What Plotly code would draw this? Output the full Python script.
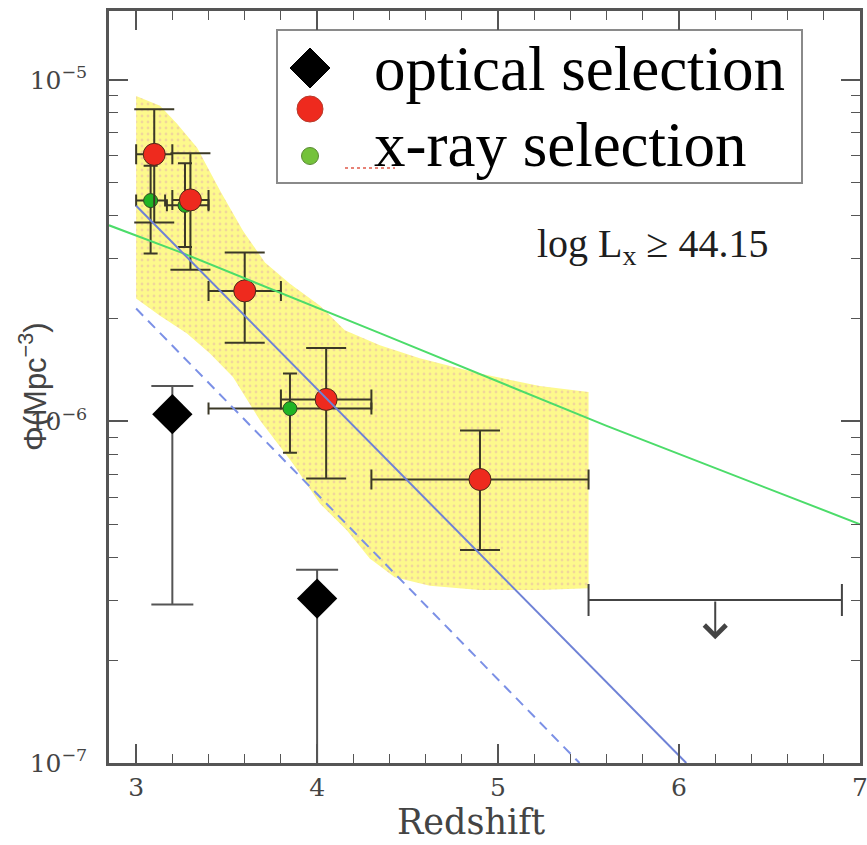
import math
import plotly.graph_objects as go

# ---- data -----------------------------------------------------------------
# optical selection (black diamonds)
opt_z = [3.2, 4.0]
opt_phi = [1.05e-6, 3.03e-7]
opt_hi = [1.27e-6, 3.68e-7]
opt_lo = [2.91e-7, 1.0e-8]

# x-ray selection (red circles)
xr_z = [3.1, 3.3, 3.6, 4.05, 4.9]
xr_zlo = [3.0, 3.2, 3.4, 3.8, 4.3]
xr_zhi = [3.2, 3.4, 3.8, 4.3, 5.5]
xr_phi = [6.05e-6, 4.45e-6, 2.41e-6, 1.16e-6, 6.76e-7]
xr_hi = [8.2e-6, 6.1e-6, 3.12e-6, 1.64e-6, 9.4e-7]
xr_lo = [3.82e-6, 2.78e-6, 1.70e-6, 6.8e-7, 4.2e-7]

# x-ray selection, second sample (green circles)
xg_z = [3.08, 3.27, 3.85]
xg_zlo = [3.0, 3.17, 3.4]
xg_zhi = [3.16, 3.4, 4.3]
xg_phi = [4.43e-6, 4.29e-6, 1.09e-6]
xg_hi = [5.6e-6, 5.7e-6, 1.38e-6]
xg_lo = [3.10e-6, 3.24e-6, 8.1e-7]

# upper limit at high redshift
ul_z = [6.2]
ul_zlo = [5.5]
ul_zhi = [6.9]
ul_phi = [3.0e-7]

# shaded model envelope
band_up_z = [3.0, 3.132, 3.226, 3.337, 3.464, 3.591, 3.712, 3.85, 4.016,
             4.153, 4.347, 4.567, 4.898, 5.23, 5.5]
band_up_phi = [8.97e-6, 8.4e-6, 7.43e-6, 6.32e-6, 4.73e-6, 3.61e-6, 2.92e-6,
               2.53e-6, 2.18e-6, 1.85e-6, 1.67e-6, 1.53e-6, 1.38e-6, 1.27e-6,
               1.22e-6]
band_lo_z = [3.0, 3.132, 3.281, 3.408, 3.535, 3.684, 3.866, 4.015, 4.164,
             4.291, 4.429, 4.623, 4.898, 5.23, 5.5]
band_lo_phi = [2.29e-6, 2.04e-6, 1.81e-6, 1.58e-6, 1.35e-6, 1.007e-6, 7.53e-7,
               5.75e-7, 4.8e-7, 3.97e-7, 3.5e-7, 3.3e-7, 3.21e-7, 3.21e-7,
               3.25e-7]

# model curves
green_z = [2.85, 3.25, 4.35, 5.6, 7.0]
green_phi = [3.75e-6, 3.12e-6, 1.81e-6, 9.7e-7, 5.0e-7]
blue_z = [3.0, 6.04]
blue_phi = [4.28e-6, 1.0e-7]
blue_dash_z = [3.0, 5.45]
blue_dash_phi = [2.14e-6, 1.0e-7]

x_ticks = [3, 4, 5, 6, 7]
y_ticks = [1e-7, 1e-6, 1e-5]
y_ticktext = ["10<sup>−7</sup>", "10<sup>−6</sup>", "10<sup>−5</sup>"]

# ---- styling constants -----------------------------------------------------
W, H = 867, 845
ML, MR, MT, MB = 109, 7, 11, 82
SERIF = "DejaVu Serif"
TIMES = "Liberation Serif"
ERR = "#3b3826"
AX = "#555555"
ARROW_DEX = 0.115

fig = go.Figure()

# envelope
fig.add_trace(go.Scatter(
    x=band_up_z + band_lo_z[::-1], y=band_up_phi + band_lo_phi[::-1],
    mode="lines", fill="toself", line=dict(width=0),
    fillcolor="#fdf98c",
    fillpattern=dict(shape=".", bgcolor="#fdf98c", fgcolor="#e3b4aa",
                     size=6, solidity=0.18),
    hoverinfo="skip", showlegend=False))


def asym(vals, hi, lo):
    return ([h - v for h, v in zip(hi, vals)], [v - l for v, l in zip(vals, lo)])


# optical points
up, dn = asym(opt_phi, opt_hi, opt_lo)
fig.add_trace(go.Scatter(
    x=opt_z, y=opt_phi, mode="markers",
    marker=dict(symbol="diamond", size=31, color="black"),
    error_y=dict(type="data", array=up, arrayminus=dn, color="#555555",
                 thickness=2, width=21),
    showlegend=False))

# green x-ray points
up, dn = asym(xg_phi, xg_hi, xg_lo)
zu, zd = asym(xg_z, xg_zhi, xg_zlo)
fig.add_trace(go.Scatter(
    x=xg_z, y=xg_phi, mode="markers",
    marker=dict(symbol="circle", size=14, color="#1fb424",
                line=dict(color="#2f4a1f", width=1)),
    error_y=dict(type="data", array=up, arrayminus=dn, color=ERR,
                 thickness=2, width=7),
    error_x=dict(type="data", array=zu, arrayminus=zd, color=ERR,
                 thickness=2, width=6),
    showlegend=False))

# red x-ray points
up, dn = asym(xr_phi, xr_hi, xr_lo)
zu, zd = asym(xr_z, xr_zhi, xr_zlo)
fig.add_trace(go.Scatter(
    x=xr_z, y=xr_phi, mode="markers",
    marker=dict(symbol="circle", size=22, color="#ee2a1e",
                line=dict(color="#4a2a1a", width=1)),
    error_y=dict(type="data", array=up, arrayminus=dn, color=ERR,
                 thickness=2, width=20),
    error_x=dict(type="data", array=zu, arrayminus=zd, color=ERR,
                 thickness=2, width=10),
    showlegend=False))

# upper limit bar
zu, zd = asym(ul_z, ul_zhi, ul_zlo)
fig.add_trace(go.Scatter(
    x=ul_z, y=ul_phi, mode="markers",
    marker=dict(size=1, color="rgba(0,0,0,0)"),
    error_x=dict(type="data", array=zu, arrayminus=zd, color="#444444",
                 thickness=2, width=16),
    showlegend=False))

# model curves
fig.add_trace(go.Scatter(x=green_z, y=green_phi, mode="lines",
                         line=dict(color="#4cdc6a", width=2),
                         showlegend=False))
fig.add_trace(go.Scatter(x=blue_z, y=blue_phi, mode="lines",
                         line=dict(color="#6f82d6", width=2),
                         showlegend=False))
fig.add_trace(go.Scatter(x=blue_dash_z, y=blue_dash_phi, mode="lines",
                         line=dict(color="#7b90e6", width=2, dash="10px,7px"),
                         showlegend=False))

# minor ticks on the log axis
y_minor = []
for dec in (-7, -6, -5):
    for k in range(2, 10):
        y_minor.append(k * 10 ** dec)

px = lambda p: (p - ML) / (W - ML - MR)
py = lambda p: (H - MB - p) / (H - MB - MT)


def key_symbol(cx, cy, kind, r, fill, edge):
    """A legend key drawn as a pixel-sized shape anchored in paper space."""
    base = dict(xref="paper", yref="paper", xsizemode="pixel",
                ysizemode="pixel", xanchor=px(cx), yanchor=py(cy),
                fillcolor=fill, line=dict(color=edge, width=1), layer="above")
    if kind == "diamond":
        base.update(type="path",
                    path=f"M 0,{r} L {r},0 L 0,{-r} L {-r},0 Z")
    else:
        base.update(type="circle", x0=-r, x1=r, y0=-r, y1=r)
    return base


shapes = [
    dict(type="rect", xref="paper", yref="paper", layer="below",
         x0=px(277), x1=px(802), y0=py(183), y1=py(30),
         line=dict(color="#8a8a8a", width=2)),
    dict(type="line", xref="paper", yref="paper", layer="below",
         x0=px(345), x1=px(395), y0=py(168), y1=py(168),
         line=dict(color="#e05a4a", width=1.5, dash="dot")),
    key_symbol(310, 68, "diamond", 20, "black", "black"),
    key_symbol(310, 109, "circle", 13, "#ee2a1e", "#b83a2a"),
    key_symbol(310, 156, "circle", 8.5, "#74c23a", "#5a8a34"),
]

lim_log = math.log10(ul_phi[0])
annotations = [
    dict(xref="paper", yref="paper", x=px(372), y=py(69), xanchor="left",
         yanchor="middle", showarrow=False, text="optical selection",
         font=dict(family=TIMES, size=63, color="black")),
    dict(xref="paper", yref="paper", x=px(372), y=py(145), xanchor="left",
         yanchor="middle", showarrow=False, text="x-ray selection",
         font=dict(family=TIMES, size=63, color="black")),
    dict(xref="paper", yref="paper", x=px(535), y=py(246), xanchor="left",
         yanchor="middle", showarrow=False,
         text="log L<sub>x</sub> ≥ 44.15",
         font=dict(family=TIMES, size=40, color="#1e1e1e")),
    dict(xref="paper", yref="paper", x=px(471), y=py(822), xanchor="center",
         yanchor="middle", showarrow=False, text="Redshift",
         font=dict(family=SERIF, size=35, color="#444444")),
    dict(xref="paper", yref="paper", x=px(33), y=0.5, xanchor="center",
         yanchor="middle", showarrow=False, textangle=-90,
         text="Φ(Mpc<sup>−3</sup>)",
         font=dict(family="Liberation Sans", size=31, color="#444444")),
    # downward arrow marking the upper limit
    dict(x=ul_z[0], y=lim_log - ARROW_DEX, xref="x", yref="y",
         ax=ul_z[0], ay=lim_log, axref="x", ayref="y",
         showarrow=True, arrowhead=4, arrowsize=2.1, arrowwidth=2,
         arrowcolor="#444444", text=""),
]

fig.update_layout(
    width=W, height=H,
    margin=dict(l=ML, r=MR, t=MT, b=MB, autoexpand=False),
    paper_bgcolor="white", plot_bgcolor="white",
    shapes=shapes, annotations=annotations,
    xaxis=dict(range=[2.85, 7.0], tickvals=x_ticks, ticks="inside",
               ticklen=19, tickwidth=1.5, tickcolor=AX, automargin=False,
               ticklabeloverflow="allow",
               minor=dict(dtick=0.2, ticks="inside", ticklen=9,
                          tickwidth=1.2, tickcolor=AX, showgrid=False),
               showline=True, linecolor=AX, linewidth=2.5, mirror="allticks",
               showgrid=False, zeroline=False,
               tickfont=dict(family=SERIF, size=25, color="#444444"),
               ticklabelstandoff=0),
    yaxis=dict(type="log", range=[-7, math.log10(1.59e-5)],
               tickvals=y_ticks, ticktext=y_ticktext, ticks="inside",
               ticklen=19, tickwidth=1.5, tickcolor=AX, automargin=False,
               ticklabeloverflow="allow",
               minor=dict(tickvals=y_minor, ticks="inside", ticklen=9,
                          tickwidth=1.2, tickcolor=AX, showgrid=False),
               showline=True, linecolor=AX, linewidth=2.5, mirror="allticks",
               showgrid=False, zeroline=False,
               tickfont=dict(family=SERIF, size=25, color="#444444"),
               ticklabelstandoff=14),
)

fig.write_html("out.html")
